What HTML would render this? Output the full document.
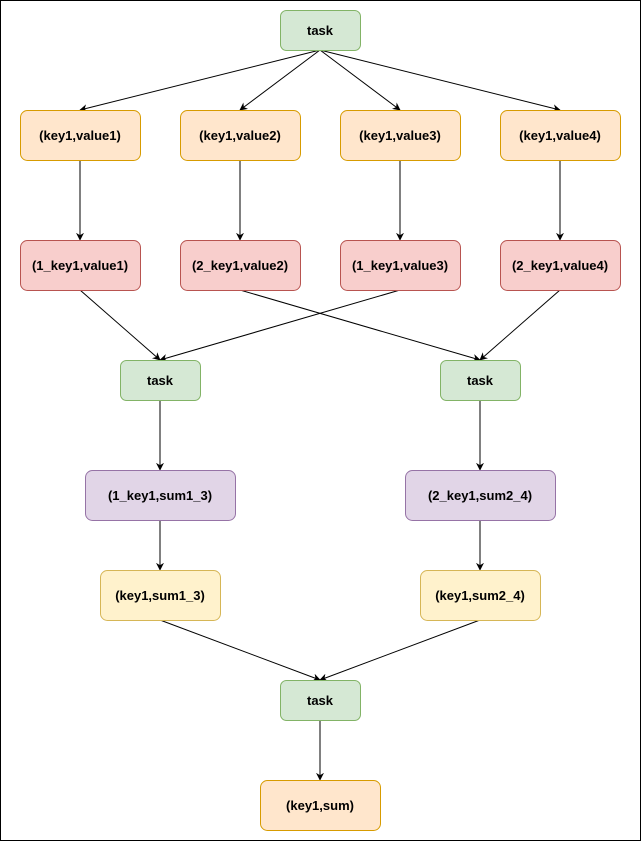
<!DOCTYPE html>
<html><head><style>html,body{margin:0;padding:0;background:#fff}svg{display:block}text{font-family:"Liberation Sans",Arial,sans-serif;font-weight:bold;font-size:13px;fill:#000}</style></head><body>
<svg width="641" height="841" viewBox="0 0 641 841" xmlns="http://www.w3.org/2000/svg">
<defs><marker id="a" viewBox="0 0 10 10" refX="9" refY="5" markerWidth="8" markerHeight="8" markerUnits="userSpaceOnUse" orient="auto"><path d="M0,0 L10,5 L0,10 L3,5 Z" fill="#000"/></marker></defs>
<rect x="0.5" y="0.5" width="640" height="840" fill="#fff" stroke="#000"/>
<g stroke="#000" stroke-width="1" fill="none" marker-end="url(#a)">
<line x1="320" y1="50" x2="80" y2="110"/>
<line x1="320" y1="50" x2="240" y2="110"/>
<line x1="320" y1="50" x2="400" y2="110"/>
<line x1="320" y1="50" x2="560" y2="110"/>
<line x1="80" y1="160" x2="80" y2="240"/>
<line x1="240" y1="160" x2="240" y2="240"/>
<line x1="400" y1="160" x2="400" y2="240"/>
<line x1="560" y1="160" x2="560" y2="240"/>
<line x1="80" y1="290" x2="160" y2="360"/>
<line x1="400" y1="290" x2="160" y2="360"/>
<line x1="240" y1="290" x2="480" y2="360"/>
<line x1="560" y1="290" x2="480" y2="360"/>
<line x1="160" y1="400" x2="160" y2="470"/>
<line x1="480" y1="400" x2="480" y2="470"/>
<line x1="160" y1="520" x2="160" y2="570"/>
<line x1="480" y1="520" x2="480" y2="570"/>
<line x1="160" y1="620" x2="320" y2="680"/>
<line x1="480" y1="620" x2="320" y2="680"/>
<line x1="320" y1="720" x2="320" y2="780"/>
</g>
<g>
<rect x="280.5" y="10.5" width="80" height="40" rx="6" fill="#d5e8d4" stroke="#82b366"/>
<rect x="20.5" y="110.5" width="120" height="50" rx="7" fill="#ffe6cc" stroke="#d79b00"/>
<rect x="180.5" y="110.5" width="120" height="50" rx="7" fill="#ffe6cc" stroke="#d79b00"/>
<rect x="340.5" y="110.5" width="120" height="50" rx="7" fill="#ffe6cc" stroke="#d79b00"/>
<rect x="500.5" y="110.5" width="120" height="50" rx="7" fill="#ffe6cc" stroke="#d79b00"/>
<rect x="20.5" y="240.5" width="120" height="50" rx="7" fill="#f8cecc" stroke="#b85450"/>
<rect x="180.5" y="240.5" width="120" height="50" rx="7" fill="#f8cecc" stroke="#b85450"/>
<rect x="340.5" y="240.5" width="120" height="50" rx="7" fill="#f8cecc" stroke="#b85450"/>
<rect x="500.5" y="240.5" width="120" height="50" rx="7" fill="#f8cecc" stroke="#b85450"/>
<rect x="120.5" y="360.5" width="80" height="40" rx="6" fill="#d5e8d4" stroke="#82b366"/>
<rect x="440.5" y="360.5" width="80" height="40" rx="6" fill="#d5e8d4" stroke="#82b366"/>
<rect x="85.5" y="470.5" width="150" height="50" rx="7" fill="#e1d5e7" stroke="#9673a6"/>
<rect x="405.5" y="470.5" width="150" height="50" rx="7" fill="#e1d5e7" stroke="#9673a6"/>
<rect x="100.5" y="570.5" width="120" height="50" rx="7" fill="#fff2cc" stroke="#d6b656"/>
<rect x="420.5" y="570.5" width="120" height="50" rx="7" fill="#fff2cc" stroke="#d6b656"/>
<rect x="280.5" y="680.5" width="80" height="40" rx="6" fill="#d5e8d4" stroke="#82b366"/>
<rect x="260.5" y="780.5" width="120" height="50" rx="7" fill="#ffe6cc" stroke="#d79b00"/>
</g>
<g text-anchor="middle">
<text x="320" y="35">task</text>
<text x="80" y="140">(key1,value1)</text>
<text x="240" y="140">(key1,value2)</text>
<text x="400" y="140">(key1,value3)</text>
<text x="560" y="140">(key1,value4)</text>
<text x="80" y="270">(1_key1,value1)</text>
<text x="240" y="270">(2_key1,value2)</text>
<text x="400" y="270">(1_key1,value3)</text>
<text x="560" y="270">(2_key1,value4)</text>
<text x="160" y="385">task</text>
<text x="480" y="385">task</text>
<text x="160" y="500">(1_key1,sum1_3)</text>
<text x="480" y="500">(2_key1,sum2_4)</text>
<text x="160" y="600">(key1,sum1_3)</text>
<text x="480" y="600">(key1,sum2_4)</text>
<text x="320" y="705">task</text>
<text x="320" y="810">(key1,sum)</text>
</g>
</svg>
</body></html>
